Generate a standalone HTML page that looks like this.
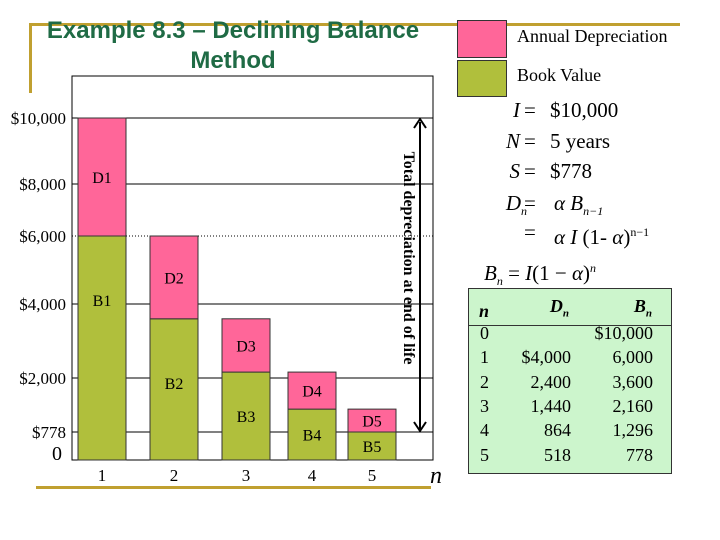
<!DOCTYPE html>
<html><head><meta charset="utf-8"><style>
body{margin:0;background:#fff;width:720px;height:540px;overflow:hidden;position:relative;font-family:"Liberation Serif",serif}
.abs{position:absolute}
</style></head><body>
<div class="abs" style="left:30px;top:23px;width:650px;height:3px;background:#c0a030"></div>
<div class="abs" style="left:29px;top:23px;width:3px;height:70px;background:#c0a030"></div>
<div class="abs" style="left:30px;top:16px;width:440px;margin-left:-17px;text-align:center;font-family:'Liberation Sans',sans-serif;font-weight:bold;font-size:24px;line-height:30px;color:#1f6b45">Example 8.3 – Declining Balance<br>Method</div>
<div class="abs" style="left:457px;top:20px;width:48px;height:36px;background:#ff6699;border:1px solid #333"></div>
<div class="abs" style="left:457px;top:60px;width:48px;height:35px;background:#b0bf3c;border:1px solid #333"></div>
<div class="abs" style="left:517px;top:26px;font-size:18px">Annual Depreciation</div>
<div class="abs" style="left:517px;top:65px;font-size:18px">Book Value</div>

<svg class="abs" style="left:0;top:0" width="720" height="540">
<g id="g"></g>
</svg>

<div class="abs" style="left:470px;top:95px;font-size:21px;line-height:31px;font-family:'Liberation Serif',serif">
<div style="position:absolute;left:0;top:0;width:230px"><span style="position:absolute;right:180px;font-style:italic">I</span><span style="position:absolute;left:54px">=</span><span style="position:absolute;left:80px">$10,000</span></div>
<div style="position:absolute;left:0;top:31px;width:230px"><span style="position:absolute;right:180px;font-style:italic">N</span><span style="position:absolute;left:54px">=</span><span style="position:absolute;left:80px">5 years</span></div>
<div style="position:absolute;left:0;top:61px;width:230px"><span style="position:absolute;right:180px;font-style:italic">S</span><span style="position:absolute;left:54px">=</span><span style="position:absolute;left:80px">$778</span></div>
<div style="position:absolute;left:0;top:93px;width:240px"><span style="position:absolute;right:183px;font-style:italic">D<sub style="font-size:12px">n</sub></span><span style="position:absolute;left:54px">=</span><span style="position:absolute;left:84px;font-style:italic">α B<sub style="font-size:12px">n−1</sub></span></div>
<div style="position:absolute;left:0;top:122px;width:260px"><span style="position:absolute;left:54px">=</span><span style="position:absolute;left:84px;white-space:nowrap"><i>α I</i> (1- <i>α</i>)<sup style="font-size:12px">n−1</sup></span></div>
<div style="position:absolute;left:14px;top:158px;width:260px;white-space:nowrap"><i>B<sub style="font-size:12px">n</sub></i> = <i>I</i>(1 − <i>α</i>)<sup style="font-size:12px"><i>n</i></sup></div>
</div>

<div class="abs" style="left:468px;top:288px;width:202px;height:184px;background:#ccf5cc;border:1px solid #333;font-size:18px">
<div style="position:absolute;left:0;top:36px;width:202px;height:1px;background:#333"></div>
<div id="tbl"></div>
</div>

<script>
const categories=[1,2,3,4,5];
const bookValues=[6000,3600,2160,1296,778];
const depreciation=[4000,2400,1440,864,518];
const tickValues=[0,778,2000,4000,6000,8000,10000];
const tickLabels=["0","$778","$2,000","$4,000","$6,000","$8,000","$10,000"];
const tableN=[0,1,2,3,4,5];
const tableD=["","$4,000","2,400","1,440","864","518"];
const tableB=["$10,000","6,000","3,600","2,160","1,296","778"];

const NS="http://www.w3.org/2000/svg";
const g=document.getElementById('g');
const tickPx=[460,432,378,304,236,184,118];
function y(v){
  for(let i=0;i<tickValues.length-1;i++){
    if(v<=tickValues[i+1]){const t=(v-tickValues[i])/(tickValues[i+1]-tickValues[i]);return tickPx[i]+t*(tickPx[i+1]-tickPx[i]);}
  }
  return tickPx[tickPx.length-1];
}
const barX=[78,150,222,288,348], barW=48;
function x(i){return barX[i];}
function mk(tag,attrs){const e=document.createElementNS(NS,tag);for(const k in attrs)e.setAttribute(k,attrs[k]);g.appendChild(e);return e;}
function txt(s,attrs){const e=mk('text',attrs);e.textContent=s;return e;}

const fr=mk('rect',{x:72,y:76,width:361,height:384,fill:'#fff',stroke:'#000','stroke-width':1});


tickValues.forEach((v,i)=>{
  if(v>0){const l=mk('line',{x1:72,x2:433,y1:y(v),y2:y(v),stroke:'#000','stroke-width':1,'stroke-dasharray':v===6000?'1,2':'none'});
  
  }
  const t=txt(tickLabels[i],{x:v===0?62:66,y:y(v)+(v===0?0:6),'text-anchor':'end','font-size':v===0?20:17,'font-family':'Liberation Serif'});
  
  
});
categories.forEach((c,i)=>{
  const bx=x(i),top=y(bookValues[i]+depreciation[i]),mid=y(bookValues[i]),base=y(0);
  const b=mk('rect',{x:bx,y:mid,width:barW,height:base-mid,fill:'#b0bf3c',stroke:'#333','stroke-width':1});
  
  
  const d=mk('rect',{x:bx,y:top,width:barW,height:mid-top,fill:'#ff6699',stroke:'#333','stroke-width':1});
  
  
  const dl=txt('D'+c,{x:bx+barW/2,y:(top+mid)/2+6,'text-anchor':'middle','font-size':16});
  
  
  const bl=txt('B'+c,{x:bx+barW/2,y:Math.min(mid+Math.min(64,(base-mid)/2)+6,455),'text-anchor':'middle','font-size':16});
  
  
  const xl=txt(String(c),{x:bx+barW/2,y:481,'text-anchor':'middle','font-size':17});
  
  
});
const nl=txt('n',{x:430,y:483,'font-size':24,'font-style':'italic'});


const bl2=mk('rect',{x:36,y:486,width:395,height:3,fill:'#c0a030'});


const ar=mk('line',{x1:420,x2:420,y1:y(10000)+4,y2:y(778)-3,stroke:'#000','stroke-width':2});


mk('path',{d:`M414 ${y(10000)+10} L420 ${y(10000)+1} L426 ${y(10000)+10}`,fill:'none',stroke:'#000','stroke-width':2});
mk('path',{d:`M414 ${y(778)-10} L420 ${y(778)-1} L426 ${y(778)-10}`,fill:'none',stroke:'#000','stroke-width':2});
const at=txt('Total depreciation at end of life',{x:0,y:0,'font-size':16,'font-weight':'bold','text-anchor':'middle',transform:'translate(404,258) rotate(90)'});



const tbl=document.getElementById('tbl');
function cell(s,left,right,top,extra){const d=document.createElement('div');d.style.cssText=`position:absolute;top:${top}px;${left!=null?'left:'+left+'px;':''}${right!=null?'right:'+right+'px;':''}${extra||''}`;d.innerHTML=s;tbl.appendChild(d);return d;}
let h=cell('<b><i>n</i></b>',10,null,12);
h=cell('<b><i>D<sub style="font-size:11px">n</sub></i></b>',null,102,7);
h=cell('<b><i>B<sub style="font-size:11px">n</sub></i></b>',null,19,7);
tableN.forEach((n,i)=>{
  const t=34+i*24.3;
  let c=cell(String(n),11,null,t);
  c=cell(tableD[i],null,100,t);
  c=cell(tableB[i],null,18,t);
});
</script>
</body></html>
